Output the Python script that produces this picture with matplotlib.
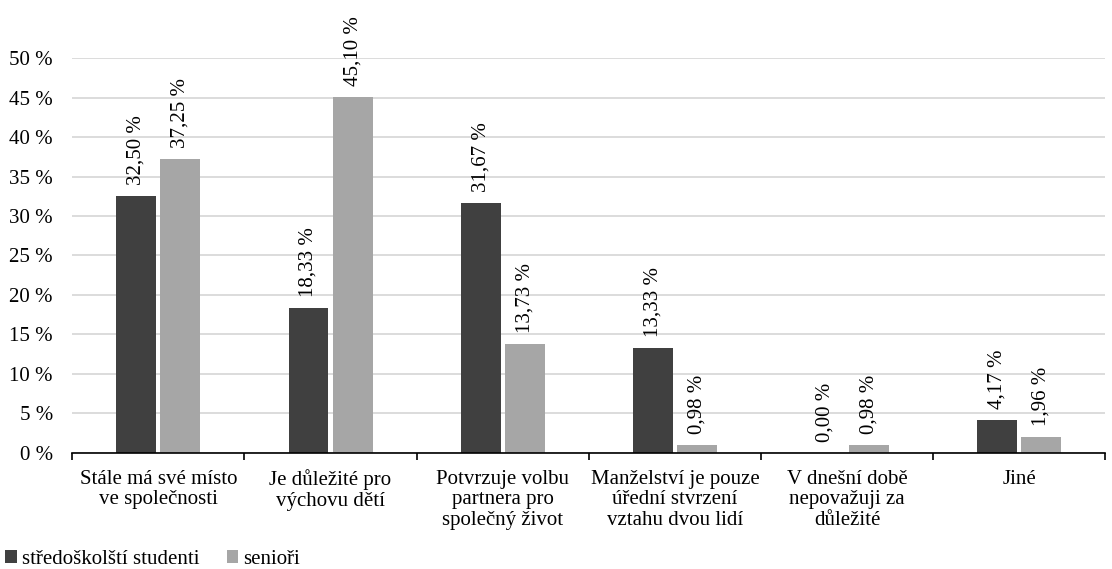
import matplotlib.pyplot as plt
import numpy as np
from matplotlib.ticker import FixedLocator, NullFormatter

plt.rcParams['font.family'] = ['Liberation Serif', 'DejaVu Serif']
plt.rcParams['font.size'] = 15

categories = ['Stále má své místo\nve společnosti', 'Je důležité pro\nvýchovu dětí',
              'Potvrzuje volbu\npartnera pro\nspolečný život', 'Manželství je pouze\núřední stvrzení\nvztahu dvou lidí',
              'V dnešní době\nnepovažuji za\ndůležité', 'Jiné']
studenti = [32.50, 18.33, 31.67, 13.33, 0.00, 4.17]
seniori = [37.25, 45.10, 13.73, 0.98, 0.98, 1.96]
series_names = ['středoškolští studenti', 'senioři']
colors = ['#404040', '#a6a6a6']

fig = plt.figure(figsize=(11.12, 5.69), dpi=100)
ax = fig.add_axes([0.065, 0.204, 0.929, 0.694])

x = np.arange(len(categories))
w = 0.232
off = 0.128
b1 = ax.bar(x - off, studenti, w, color=colors[0], label=series_names[0], zorder=2)
b2 = ax.bar(x + off, seniori, w, color=colors[1], label=series_names[1], zorder=2)

def fmt(v):
    return ('%.2f' % v).replace('.', ',') + ' %'

for bars, vals in ((b1, studenti), (b2, seniori)):
    for rect, v in zip(bars, vals):
        ax.annotate(fmt(v), (rect.get_x() + rect.get_width() / 2, v),
                    xytext=(0, 8), textcoords='offset points',
                    rotation=90, ha='center', va='bottom', clip_on=False)

ax.set_xlim(-0.5, len(categories) - 0.5)
ax.set_ylim(0, 50)
ax.set_yticks(np.arange(0, 51, 5))
ax.set_yticklabels(['%d %%' % t for t in range(0, 51, 5)])
ax.yaxis.grid(True, color='#d9d9d9', linewidth=1.3, zorder=0)
ax.set_axisbelow(True)

ax.set_xticks(x)
ax.set_xticklabels(categories, linespacing=1.12)
ax.tick_params(axis='x', length=0, pad=12)
ax.xaxis.set_minor_locator(FixedLocator(np.arange(-0.5, len(categories), 1.0)))
ax.xaxis.set_minor_formatter(NullFormatter())
ax.tick_params(axis='x', which='minor', length=5, width=1.2, color='black')
ax.tick_params(axis='y', length=0, pad=14)

for s in ['top', 'right', 'left']:
    ax.spines[s].set_visible(False)
ax.spines['bottom'].set_linewidth(1.2)

fig.legend(loc='lower left', bbox_to_anchor=(-0.012, -0.033), ncol=2, frameon=False,
           handlelength=0.55, handleheight=0.55, handletextpad=0.25, columnspacing=1.3)

fig.savefig('out.png', dpi=100)
